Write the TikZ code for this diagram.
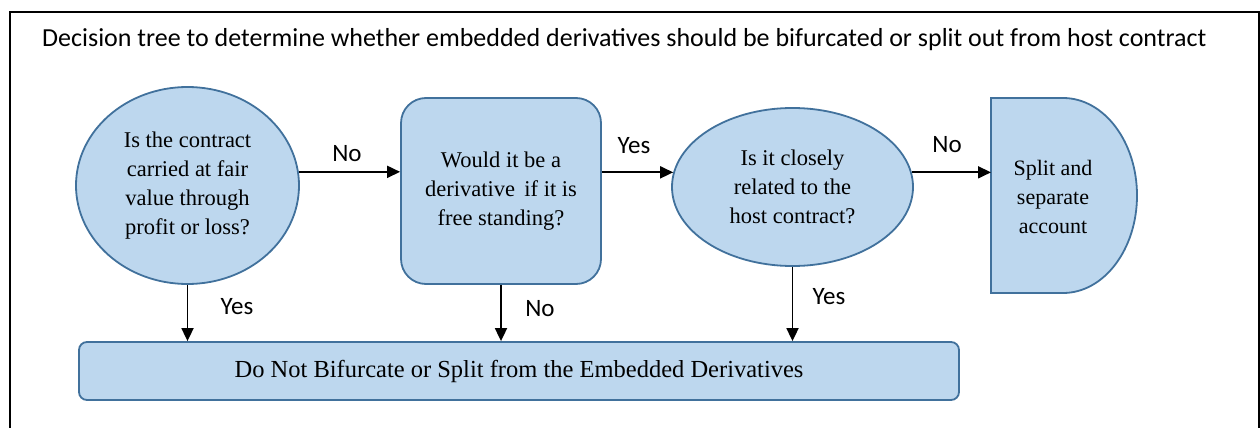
\documentclass[tikz,border=0pt]{standalone}
\usepackage{fontspec}
\setmainfont{Liberation Serif}
\newfontfamily\calib{Carlito}
\usetikzlibrary{shapes.geometric,arrows.meta,calc}
\definecolor{boxfill}{RGB}{189,215,238}
\definecolor{boxdraw}{RGB}{65,113,156}
\tikzset{
  shapestyle/.style={fill=boxfill,draw=boxdraw,line width=1.8pt,inner sep=0pt,align=center,
    font=\fontsize{22.5}{29}\selectfont},
  qellipse/.style={shapestyle,ellipse},
  qbox/.style={shapestyle,rectangle,rounded corners=25pt},
  arr/.style={line width=1.8pt,-{Triangle[length=13pt,width=12pt]}},
  lbl/.style={font=\calib\fontsize{25}{28}\selectfont,inner sep=0pt}
}
\begin{document}
\begin{tikzpicture}[x=1pt,y=1pt]
\useasboundingbox (0,0) rectangle (1260,-428);
% frame
\draw[line width=2.4pt] (10,-430) -- (10,-12) -- (1259,-12) -- (1259,-430);
% title
\node[anchor=base west,inner sep=0pt,font=\calib\fontsize{26}{30}\selectfont] (title) at (42,-47)
  {Decision tree to determine whether embedded derivatives should be bifurcated or split out from host contract};
% nodes
\node[qellipse,minimum width=223pt,minimum height=197pt] (e1) at (187.5,-185.5)
  {Is the contract\\carried at fair\\value through\\profit or loss?};
\node[qbox,minimum width=200pt,minimum height=186pt] (r2) at (501,-191)
  {Would it be a\\derivative\ \,if it is\\free standing?};
\node[qellipse,minimum width=241pt,minimum height=158pt] (e3) at (792.5,-187)
  {Is it closely\\related to the\\host contract?};
\draw[fill=boxfill,draw=boxdraw,line width=1.8pt]
  (991,-98) -- (1063,-98) arc[start angle=90,end angle=-90,x radius=74,y radius=97.5] -- (991,-293) -- cycle;
\node[align=center,inner sep=0pt,font=\fontsize{22}{29}\selectfont] (s4) at (1053,-197)
  {Split and\\separate\\account};
\coordinate (s4in) at (991,-173);
\node[shapestyle,rectangle,rounded corners=8pt,minimum width=880pt,minimum height=58pt,
  font=\fontsize{24.5}{29}\selectfont] (bot) at (519,-371)
  {Do Not Bifurcate or Split from the Embedded Derivatives};
% connectors
\draw[arr] (e1.7) -- (e1.7 -| r2.west);
\draw[arr] (e3.173 -| r2.east) -- (e3.173);
\draw[arr] (e3.7) -- (e3.7 -| s4in);
\draw[arr] (e1.south) -- (e1.south |- bot.north);
\draw[arr] (r2.south) -- (r2.south |- bot.north);
\draw[arr] (e3.south) -- (e3.south |- bot.north);
% labels
\node[lbl] (l1) at (347,-154) {No};
\node[lbl] (l2) at (634,-146) {Yes};
\node[lbl] (l3) at (947,-145) {No};
\node[lbl] (l4) at (237,-307) {Yes};
\node[lbl] (l5) at (540,-309) {No};
\node[lbl] (l6) at (829,-297) {Yes};
\end{tikzpicture}
\end{document}
